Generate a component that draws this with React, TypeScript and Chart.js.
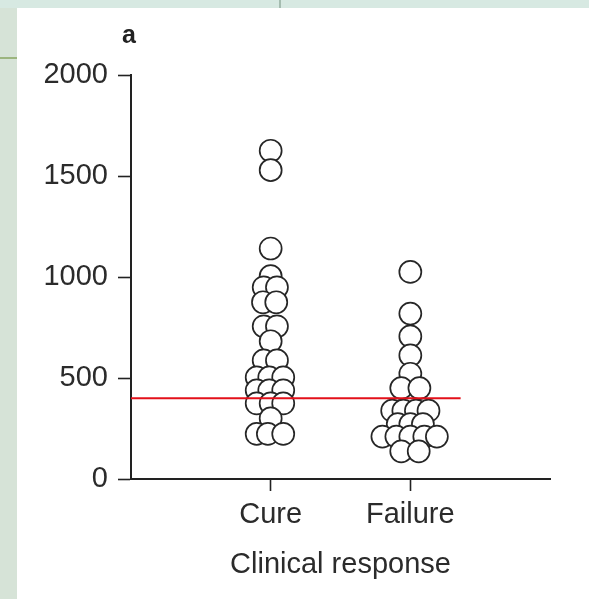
import React, { useEffect, useRef } from 'react';
import { Chart, registerables } from 'chart.js';

Chart.register(...registerables);

// ---- data ----
const categories = ['Cure', 'Failure'];
const yTicks = [0, 500, 1000, 1500, 2000];
const panelLetter = 'a';
const xAxisTitle = 'Clinical response';

const cureValues = [1625, 1529, 1141, 1004, 949, 949, 875, 875, 756, 756, 682, 587, 587, 503, 503, 503, 439, 439, 439, 374, 374, 374, 300, 223, 223, 223];
const cureJitter = [0, 0, 0, 0, -0.05, 0.045, -0.055, 0.04, -0.05, 0.045, 0, -0.05, 0.045, -0.1, -0.01, 0.09, -0.1, -0.01, 0.09, -0.1, 0, 0.09, 0, -0.1, -0.02, 0.09];

const failureValues = [1025, 819, 706, 612, 521, 450, 450, 338, 338, 338, 338, 272, 272, 272, 210, 210, 210, 210, 210, 137, 137];
const failureJitter = [0, 0, 0, 0, 0, -0.065, 0.065, -0.13, -0.05, 0.04, 0.13, -0.09, 0, 0.09, -0.2, -0.1, 0, 0.1, 0.19, -0.065, 0.06];

const cutoffValue = 400;
const cutoffEnd = 2.36;

const FONT = '"Liberation Sans", Arial, Helvetica, sans-serif';

export default function App() {
  const ref = useRef<HTMLCanvasElement>(null);

  useEffect(() => {
    const canvas = ref.current;
    if (!canvas) return;

    const panelLabel = {
      id: 'panelLabel',
      afterDraw(chart: any) {
        const { ctx, chartArea } = chart;
        ctx.save();
        ctx.font = `bold 25px ${FONT}`;
        ctx.fillStyle = '#222';
        ctx.textAlign = 'center';
        ctx.textBaseline = 'alphabetic';
        ctx.fillText(panelLetter, chartArea.left - 2, chartArea.top - 32);
        ctx.restore();
      },
    };

    const pointStyle = {
      pointRadius: 11,
      pointHoverRadius: 11,
      pointBorderWidth: 1.7,
      pointBorderColor: '#262626',
      pointBackgroundColor: '#ffffff',
      showLine: false,
    };

    const chart = new Chart(canvas, {
      type: 'scatter',
      data: {
        datasets: [
          {
            type: 'line',
            label: 'cutoff',
            data: [
              { x: 0, y: cutoffValue },
              { x: cutoffEnd, y: cutoffValue },
            ],
            borderColor: '#e3101a',
            borderWidth: 2,
            pointRadius: 0,
            fill: false,
            order: 0,
          } as any,
          {
            label: categories[0],
            data: cureValues.map((v, i) => ({ x: 1 + cureJitter[i], y: v })),
            order: 1,
            ...pointStyle,
          } as any,
          {
            label: categories[1],
            data: failureValues.map((v, i) => ({ x: 2 + failureJitter[i], y: v })),
            order: 1,
            ...pointStyle,
          } as any,
        ],
      },
      options: {
        animation: false,
        responsive: false,
        maintainAspectRatio: false,
        layout: { padding: { left: 0, top: 67, right: 39, bottom: 0 } },
        plugins: {
          legend: { display: false },
          tooltip: { enabled: false },
        },
        scales: {
          x: {
            type: 'linear',
            min: 0,
            max: 3,
            afterBuildTicks: (scale: any) => {
              scale.ticks = categories.map((_, i) => ({ value: i + 1 }));
            },
            afterFit: (scale: any) => {
              scale.height = 120;
            },
            grid: {
              display: true,
              drawOnChartArea: false,
              drawTicks: true,
              tickLength: 12,
              tickWidth: 1.6,
              tickColor: '#222',
            },
            border: { display: true, color: '#222', width: 2 },
            ticks: {
              padding: 7,
              color: '#2b2b2b',
              font: { family: FONT, size: 29 },
              callback: (v: any) => categories[Number(v) - 1] ?? '',
            },
            title: {
              display: true,
              text: xAxisTitle,
              color: '#2b2b2b',
              font: { family: FONT, size: 29 },
              padding: { top: 0, bottom: 17 },
            },
          },
          y: {
            type: 'linear',
            min: yTicks[0],
            max: yTicks[yTicks.length - 1],
            afterBuildTicks: (scale: any) => {
              scale.ticks = yTicks.map((v) => ({ value: v }));
            },
            afterFit: (scale: any) => {
              scale.width = 114;
            },
            grid: {
              display: true,
              drawOnChartArea: false,
              drawTicks: true,
              tickLength: 13,
              tickWidth: 1.6,
              tickColor: '#222',
            },
            border: { display: true, color: '#222', width: 2 },
            ticks: {
              padding: 10,
              color: '#2b2b2b',
              font: { family: FONT, size: 29 },
              callback: (v: any) => String(v),
            },
          },
        },
      },
      plugins: [panelLabel],
    });

    return () => chart.destroy();
  }, []);

  return (
    <div
      style={{
        position: 'fixed',
        left: 0,
        top: 0,
        width: 589,
        height: 599,
        background: '#d7e9e2',
        overflow: 'hidden',
      }}
    >
      <div style={{ position: 'absolute', left: 0, top: 8, width: 17, height: 591, background: '#d6e3d7' }} />
      <div style={{ position: 'absolute', left: 0, top: 57, width: 17, height: 2, background: '#9cb57f' }} />
      <div style={{ position: 'absolute', left: 279, top: 0, width: 2, height: 8, background: '#a5bcb0' }} />
      <div style={{ position: 'absolute', left: 17, top: 8, width: 572, height: 591, background: '#ffffff' }}>
        <canvas ref={ref} width={572} height={591} style={{ display: 'block', width: 572, height: 591 }} />
      </div>
    </div>
  );
}
